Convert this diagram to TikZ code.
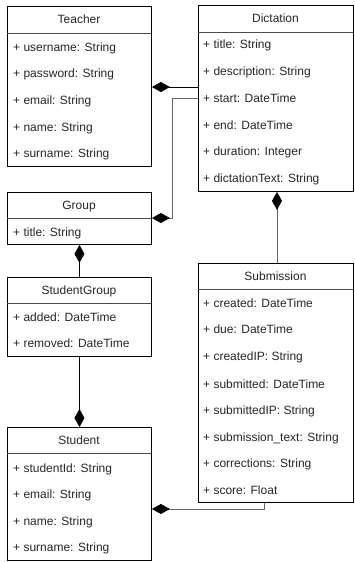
\documentclass[tikz,border=0pt]{standalone}
\usepackage{fontspec}
\setmainfont{Liberation Sans}
\usetikzlibrary{arrows.meta}
\begin{document}
\begin{tikzpicture}[x=1pt,y=-1pt,
  box/.style={draw=black,line width=0.9pt,anchor=north west,inner sep=0pt},
  hdr/.style={font=\fontsize{12}{13}\selectfont,text=black!85,anchor=base,inner sep=0pt},
  attr/.style={font=\fontsize{12}{13}\selectfont,text=black!85,anchor=base west,inner sep=0pt},
  divider/.style={draw=black!70,line width=0.8pt},
  comp/.style={line width=0.9pt,-{Diamond[length=18pt,width=10pt,color=black,fill=black]}},
  compg/.style={comp,draw=black!60}]
\useasboundingbox (0,0) rectangle (354,562);
% Teacher
\node[box,minimum width=144,minimum height=160] (teacher) at (7,6) {};
\node[hdr] (teacherH) at (79,23.5) {Teacher};
\draw[divider] (7,33) -- (151,33);
\node[attr] (t1) at (13,51) {+ username: String};
\node[attr] (t2) at (13,77.5) {+ password: String};
\node[attr] (t3) at (13,104) {+ email: String};
\node[attr] (t4) at (13,131) {+ name: String};
\node[attr] (t5) at (13,157.5) {+ surname: String};
% Dictation
\node[box,minimum width=155,minimum height=186] (dictation) at (198,5) {};
\node[hdr] (dictationH) at (275.5,22.5) {Dictation};
\draw[divider] (198,32) -- (353,32);
\node[attr] (d1) at (203,48.5) {+ title: String};
\node[attr] (d2) at (203,75) {+ description: String};
\node[attr] (d3) at (203,102) {+ start: DateTime};
\node[attr] (d4) at (203,129) {+ end: DateTime};
\node[attr] (d5) at (203,155.5) {+ duration: Integer};
\node[attr] (d6) at (203,182) {+ dictationText: String};
% Group
\node[box,minimum width=144,minimum height=52] (group) at (7,192) {};
\node[hdr] (groupH) at (79,209) {Group};
\draw[divider] (7,218) -- (151,218);
\node[attr] (g1) at (13,236) {+ title: String};
% StudentGroup
\node[box,minimum width=144,minimum height=79] (sg) at (7,277) {};
\node[hdr] (sgH) at (79,294.5) {StudentGroup};
\draw[divider] (7,303) -- (151,303);
\node[attr] (sg1) at (13,321) {+ added: DateTime};
\node[attr] (sg2) at (13,347.5) {+ removed: DateTime};
% Student
\node[box,minimum width=144,minimum height=133] (student) at (7,427) {};
\node[hdr] (studentH) at (79,444.5) {Student};
\draw[divider] (7,453) -- (151,453);
\node[attr] (s1) at (13,472) {+ studentId: String};
\node[attr] (s2) at (13,498) {+ email: String};
\node[attr] (s3) at (13,525) {+ name: String};
\node[attr] (s4) at (13,551.5) {+ surname: String};
% Submission
\node[box,minimum width=155,minimum height=239] (submission) at (198,263) {};
\node[hdr] (submissionH) at (275.5,280) {Submission};
\draw[divider] (198,289) -- (353,289);
\node[attr] (u1) at (203,307) {+ created: DateTime};
\node[attr] (u2) at (203,333) {+ due: DateTime};
\node[attr] (u3) at (203,360) {+ createdIP: String};
\node[attr] (u4) at (203,388) {+ submitted: DateTime};
\node[attr] (u5) at (203,414) {+ submittedIP: String};
\node[attr] (u6) at (203,441) {+ submission\_text: String};
\node[attr] (u7) at (203,467) {+ corrections: String};
\node[attr] (u8) at (203,494) {+ score: Float};
% helper coordinates
\coordinate (c1) at (172,98);
\coordinate (c2) at (172,218);
\coordinate (c3) at (264,509);
% connectors
\draw[comp] (dictation.west |- 0,87) -- (teacher.east |- 0,87);
\draw[compg] (dictation.west |- c1) -- (c1) -- (c2) -- (group.east |- c2);
\draw[comp] (sg.north) -- (group.south);
\draw[comp] (sg.south) -- (student.north);
\draw[compg] (submission.north -| 277,0) -- (dictation.south -| 277,0);
\draw[compg] (submission.south -| c3) -- (c3) -- (student.east |- c3);
\end{tikzpicture}
\end{document}
